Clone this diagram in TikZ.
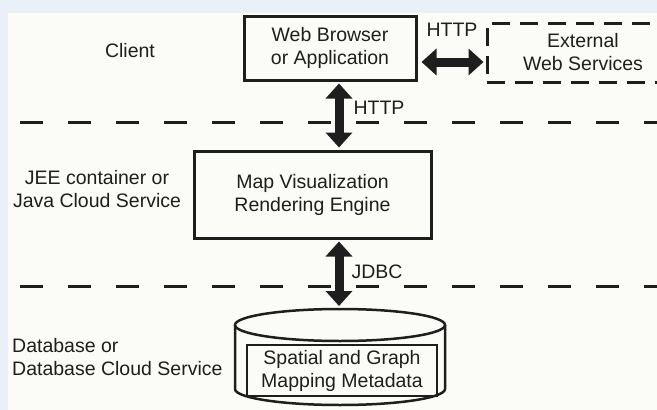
\documentclass[tikz,border=0pt]{standalone}
\usepackage{fontspec}
\setmainfont{Liberation Sans}
\usetikzlibrary{arrows.meta}
\definecolor{framebg}{HTML}{EAF0F8}
\definecolor{pagebg}{HTML}{FBFBF8}
\definecolor{ink}{HTML}{1E1E1E}
\begin{document}
\begin{tikzpicture}[x=1pt,y=-1pt,
  every node/.style={font=\fontsize{19.5}{23}\selectfont, text=ink, inner sep=0pt, align=center},
  tierbox/.style={draw=ink, line width=3pt},
  extbox/.style={draw=ink, line width=3pt, dash pattern=on 18pt off 10pt},
  tierline/.style={draw=ink, line width=3pt, dash pattern=on 23pt off 25pt},
  fat/.style={draw=ink, line width=9pt, shorten <=2pt, shorten >=2pt,
    {Triangle[width=26pt,length=15pt]}-{Triangle[width=26pt,length=15pt]}}]
\useasboundingbox (0,0) rectangle (657,410);
\fill[framebg] (0,0) rectangle (657,410);
\fill[pagebg] (8,13) rectangle (657,410);
% tier separators
\draw[tierline] (20,122) -- (657,122);
\draw[tierline] (20,286) -- (657,286);
% client tier
\node (client) at (130,51) {Client};
\node[tierbox, minimum width=172pt, minimum height=64pt] (web) at (330,48) {Web Browser\\or Application};
\node[extbox, minimum width=192pt, minimum height=59pt] (ext) at (583,52.5) {External\\Web Services};
% middle tier
\node (jee) at (97,189) {JEE container or\\Java Cloud Service};
\node[tierbox, minimum width=237pt, minimum height=87pt] (engine) at (312.5,194.5) {Map Visualization\\Rendering Engine};
% database tier
\node[anchor=west, align=left] (dblabel) at (12,357) {Database or\\Database Cloud Service};
\draw[ink, line width=2.5pt] (340,325) ellipse [x radius=105pt, y radius=16pt];
\draw[ink, line width=2.5pt] (235,325) -- (235,389) arc [start angle=180, end angle=360, x radius=105pt, y radius=16pt] -- (445,325);
\coordinate (dbtop) at (340,309);
\node[tierbox, line width=2.5pt, minimum width=190pt, minimum height=51pt] (meta) at (342,370.5) {Spatial and Graph\\Mapping Metadata};
% arrows
\coordinate (ax) at (339,0);
\coordinate (hy) at (0,62);
\draw[fat, shorten <=4pt] (web.east |- hy) -- (ext.west |- hy);
\node (httpext) at (452,30) {HTTP};
%transition web engine
\draw[fat] (web.south -| ax) -- (engine.north -| ax);
\node (httpweb) at (379,108) {HTTP};
%transition engine db
\draw[fat, shorten >=3pt] (engine.south -| ax) -- (dbtop -| ax);
\node (jdbc) at (377,272) {JDBC};
\end{tikzpicture}
\end{document}
